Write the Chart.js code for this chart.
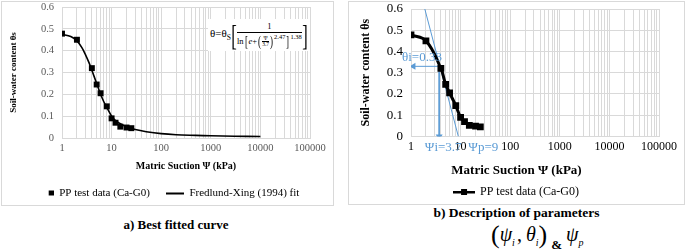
<!DOCTYPE html>
<html>
<head>
<meta charset="utf-8">
<script src="https://cdn.jsdelivr.net/npm/chart.js@4.4.1/dist/chart.umd.min.js"></script>
<style>
  body { margin: 0; width: 685px; height: 250px; background: #fff; position: relative; overflow: hidden;
         font-family: 'Liberation Serif', 'Times New Roman', serif; }
  .box { position: absolute; border: 1px solid #d9d9d9; box-sizing: border-box; background: #fff; }
  #boxA { left: 1px; top: 1px; width: 333px; height: 205px; }
  #boxB { left: 348px; top: 1px; width: 337px; height: 204px; }
  .inner { position: relative; width: 100%; height: 100%; }
  .caption { position: absolute; font-weight: bold; color: #000; white-space: nowrap; }
  #capA { left: 0; width: 352px; text-align: center; top: 217px; font-size: 13px; }
  #capB { left: 348px; width: 337px; text-align: center; top: 205px; font-size: 13.5px; }
  #capB2 { position: absolute; left: 491px; top: 218px; font-size: 20px; white-space: nowrap; }
  #capB2 .paren { font-size: 26px; position: relative; top: 2px; }
  #capB2 sub { font-size: 10px; font-style: italic; }
  #capB2 .sep { margin: 0 4px 0 2px; }
  #capB2 .amp { font-size: 13px; position: relative; top: 8px; margin: 0 4px; }
  #eq { position: absolute; left: 208px; top: 19px; height: 32px; background: #fff; color: #000;
        display: flex; align-items: center; font-size: 11px; white-space: nowrap; padding: 0 2px; }
  #eq sub { font-size: 7.5px; }
  #eq .big { font-size: 30px; transform: scaleX(0.55); display: inline-block; line-height: 1; margin: 0 -2px; }
  #eq .frac { display: inline-flex; flex-direction: column; align-items: center; }
  #eq .num { font-size: 8.5px; border-bottom: 1px solid #000; width: 100%; text-align: center; line-height: 1.3; }
  #eq .den { font-size: 8.5px; display: flex; align-items: center; line-height: 1; padding-top: 1px; }
  #eq .mid { font-size: 15px; transform: scaleX(0.6); display: inline-block; }
  #eq .sfrac { display: inline-flex; flex-direction: column; font-size: 5.5px; text-align: center; }
  #eq .sfrac span:first-child { border-bottom: 0.5px solid #000; }
  #eq sup { font-size: 6.5px; align-self: flex-start; }
</style>
</head>
<body>
<div class="box" id="boxA"><div class="inner"><canvas id="chartA"></canvas></div></div>
<div class="box" id="boxB"><div class="inner"><canvas id="chartB"></canvas></div></div>

<div id="eq">
  <span>θ=θ<sub>S</sub></span>
  <span class="big">[</span>
  <span class="frac">
    <span class="num">1</span>
    <span class="den">ln<span class="mid">[</span><i>e</i>+<span class="mid">(</span><span class="sfrac"><span>Ψ</span><span>3.7</span></span><span class="mid">)</span><sup>2.47</sup><span class="mid">]</span><sup>1.38</sup></span>
  </span>
  <span class="big">]</span>
</div>

<div class="caption" id="capA">a) Best fitted curve</div>
<div class="caption" id="capB">b) Description of parameters</div>
<div id="capB2"><span class="paren">(</span><i>ψ</i><sub>i</sub><span class="sep">,</span><i>θ</i><sub>i</sub><span class="paren">)</span><b class="amp">&amp;</b><i>ψ</i><sub>p</sub></div>

<script>
// Measured points (PP test data, Ca-G0)
const suction = [1, 2, 4, 5, 6, 8, 10, 12, 15, 20, 25];
const theta = [0.478, 0.45, 0.32, 0.245, 0.205, 0.145, 0.09, 0.07, 0.052, 0.048, 0.045];

// Fredlund-Xing fitted curve
const fitSuction = [1, 1.5, 2, 2.5, 3, 3.5, 4, 5, 6, 7, 8, 10, 12, 15, 20, 30, 50, 100, 200, 500, 1000, 3000, 10000];
const fitTheta = [0.475, 0.465, 0.445, 0.415, 0.38, 0.345, 0.31, 0.25, 0.2, 0.165, 0.14, 0.1, 0.08, 0.065, 0.052, 0.039, 0.029, 0.02, 0.015, 0.012, 0.01, 0.008, 0.007];

// Parameter construction on the right panel
const tangentSuction = [1.9, 9];
const tangentTheta = [0.6, 0];
const psiI = 3.7;
const thetaI = 0.33;
const psiP = 9;
const arrowLeftEnd = 1.12;

const yTicks = [0, 0.1, 0.2, 0.3, 0.4, 0.5, 0.6];
const decades = [1, 10, 100, 1000, 10000, 100000];

const blue = '#5b9bd5';
const gridColor = '#d9d9d9';
const serif = "'Liberation Serif', 'Times New Roman', serif";

function toPoints(xs, ys) {
  return xs.map((x, i) => ({ x: x, y: ys[i] }));
}

// gridlines at 1..9 of every decade, labels only on the decades
function logTicks(scale) {
  const ticks = [];
  decades.forEach(d => {
    if (d === 100000) { ticks.push({ value: d }); return; }
    for (let k = 1; k <= 9; k++) ticks.push({ value: k * d });
  });
  scale.ticks = ticks;
}
function decadeLabel(v) {
  return decades.includes(v) ? String(v) : '';
}
// keep chart area where we put it, no extra room for overhanging labels
function noOverhang(s) {
  s.paddingTop = 0; s.paddingBottom = 0; s.paddingLeft = 0; s.paddingRight = 0;
}

// small canvases used as legend symbols
function makeIcon(w, h, draw) {
  const c = document.createElement('canvas');
  c.width = w; c.height = h;
  draw(c.getContext('2d'));
  return c;
}
const squareIcon = makeIcon(18, 8, ctx => { ctx.fillStyle = '#000'; ctx.fillRect(13, 1, 5, 5); });
const lineIcon = makeIcon(18, 4, ctx => { ctx.fillStyle = '#000'; ctx.fillRect(0, 1, 18, 2); });
const lineMarkerIcon = makeIcon(22, 8, ctx => {
  ctx.fillStyle = '#000';
  ctx.fillRect(0, 3, 22, 2.5);
  ctx.fillRect(8, 1, 6, 6);
});

// invisible right-hand axis that only reserves space
function spacerAxis(w) {
  return {
    position: 'right', display: true,
    grid: { display: false, drawTicks: false }, border: { display: false },
    ticks: { display: false },
    afterFit: s => { s.width = w; noOverhang(s); }
  };
}

// ---------- a) Best fitted curve ----------
new Chart(document.getElementById('chartA'), {
  type: 'scatter',
  data: {
    datasets: [{
      label: 'PP test data (Ca-G0)',
      data: toPoints(suction, theta),
      pointStyle: 'rect',
      pointRadius: 4.2,
      backgroundColor: '#000',
      borderColor: '#000',
      borderWidth: 0,
      showLine: false
    }, {
      label: 'Fredlund-Xing (1994) fit',
      data: toPoints(fitSuction, fitTheta),
      showLine: true,
      borderColor: '#000',
      borderWidth: 1.6,
      pointRadius: 0,
      tension: 0.35
    }]
  },
  options: {
    responsive: true,
    maintainAspectRatio: false,
    animation: false,
    layout: { padding: { top: 5, right: 0, left: 0, bottom: 0 } },
    scales: {
      x: {
        type: 'logarithmic', min: 1, max: 100000,
        grid: { color: gridColor, drawTicks: false },
        border: { color: gridColor },
        afterBuildTicks: logTicks,
        afterFit: s => { s.height = 34; noOverhang(s); },
        ticks: { autoSkip: false, maxRotation: 0, padding: 4, color: '#595959',
                 font: { family: serif, size: 10.5 }, callback: decadeLabel },
        title: { display: true, text: 'Matric Suction Ψ (kPa)', color: '#000',
                 font: { family: serif, size: 10, weight: 'bold' },
                 padding: { top: 0, bottom: 0 } }
      },
      y: {
        min: 0, max: 0.6,
        grid: { color: gridColor, drawTicks: false },
        border: { color: gridColor },
        afterBuildTicks: s => { s.ticks = yTicks.map(v => ({ value: v })); },
        afterFit: s => { s.width = 60; noOverhang(s); },
        ticks: { padding: 8, color: '#595959', font: { family: serif, size: 10.5 } },
        title: { display: true, text: 'Soil-water content θs', color: '#000',
                 font: { family: serif, size: 9, weight: 'bold' },
                 padding: { top: 6, bottom: 0 } }
      },
      y2: spacerAxis(23)
    },
    plugins: {
      tooltip: { enabled: false },
      legend: {
        position: 'bottom',
        maxHeight: 33,
        labels: {
          usePointStyle: true,
          pointStyleWidth: 18,
          padding: 16,
          color: '#000',
          font: { family: serif, size: 11 },
          generateLabels: chart => [
            { text: 'PP test data (Ca-G0)', pointStyle: squareIcon, fillStyle: '#000', strokeStyle: '#000', lineWidth: 0, datasetIndex: 0 },
            { text: 'Fredlund-Xing (1994) fit', pointStyle: lineIcon, fillStyle: '#000', strokeStyle: '#000', lineWidth: 0, datasetIndex: 1 }
          ]
        }
      }
    }
  }
});

// ---------- b) Description of parameters ----------
const annotationText = {
  id: 'annotationText',
  afterDatasetsDraw(chart) {
    const { ctx, scales: { x, y }, chartArea } = chart;
    ctx.save();
    ctx.fillStyle = blue;
    ctx.font = "13px 'Liberation Serif', serif";
    ctx.textBaseline = 'middle';
    ctx.textAlign = 'left';
    ctx.fillText('θi=0.33', x.getPixelForValue(1) - 9, y.getPixelForValue(thetaI) - 9);
    ctx.textAlign = 'center';
    ctx.fillText('Ψi=3.7', x.getPixelForValue(psiI) + 4, chartArea.bottom + 11);
    ctx.textAlign = 'left';
    ctx.fillText('Ψp=9', x.getPixelForValue(psiP) + 10, chartArea.bottom + 11);
    ctx.restore();
  }
};

new Chart(document.getElementById('chartB'), {
  type: 'scatter',
  data: {
    datasets: [{
      label: 'PP test data (Ca-G0)',
      data: toPoints(suction, theta),
      showLine: true,
      borderColor: '#000',
      backgroundColor: '#000',
      borderWidth: 3,
      pointStyle: 'rect',
      pointRadius: 4.8,
      pointBorderWidth: 0,
      tension: 0.4
    }, {
      label: 'tangent',
      data: toPoints(tangentSuction, tangentTheta),
      showLine: true,
      borderColor: blue,
      borderWidth: 1,
      pointRadius: 0
    }, {
      label: 'psi_i',
      data: toPoints([psiI, psiI], [thetaI, 0]),
      showLine: true,
      borderColor: blue,
      backgroundColor: blue,
      borderWidth: 1,
      pointStyle: 'triangle',
      pointRadius: [0, 4],
      pointRotation: [0, 180],
      pointBorderWidth: 0
    }, {
      label: 'theta_i',
      data: toPoints([psiI, arrowLeftEnd], [thetaI, thetaI]),
      showLine: true,
      borderColor: blue,
      backgroundColor: blue,
      borderWidth: 1,
      pointStyle: 'triangle',
      pointRadius: [0, 4],
      pointRotation: [0, 270],
      pointBorderWidth: 0
    }]
  },
  options: {
    responsive: true,
    maintainAspectRatio: false,
    animation: false,
    layout: { padding: { top: 7, right: 0, left: 0, bottom: 0 } },
    scales: {
      x: {
        type: 'logarithmic', min: 1, max: 100000,
        grid: { color: gridColor, drawTicks: false },
        border: { color: gridColor },
        afterBuildTicks: logTicks,
        afterFit: s => { s.height = 24; noOverhang(s); },
        ticks: { autoSkip: false, maxRotation: 0, padding: 3, color: '#000',
                 font: { family: serif, size: 12 }, callback: decadeLabel }
      },
      y: {
        min: 0, max: 0.6,
        grid: { color: gridColor, drawTicks: false },
        border: { color: gridColor },
        afterBuildTicks: s => { s.ticks = yTicks.map(v => ({ value: v })); },
        afterFit: s => { s.width = 62; noOverhang(s); },
        ticks: { padding: 8, color: '#000', font: { family: serif, size: 13 } },
        title: { display: true, text: 'Soil-water content θs', color: '#000',
                 font: { family: serif, size: 12, weight: 'bold' },
                 padding: { top: 10, bottom: 0 } }
      },
      y2: spacerAxis(25)
    },
    plugins: {
      tooltip: { enabled: false },
      title: {
        display: true, position: 'bottom', weight: 500,
        text: 'Matric Suction Ψ (kPa)', color: '#000',
        font: { family: serif, size: 13, weight: 'bold' },
        padding: { top: 2, bottom: 0 }
      },
      legend: {
        position: 'bottom',
        maxHeight: 26,
        labels: {
          usePointStyle: true,
          pointStyleWidth: 20,
          padding: 8,
          color: '#000',
          font: { family: serif, size: 12 },
          generateLabels: chart => [
            { text: 'PP test data (Ca-G0)', pointStyle: lineMarkerIcon, fillStyle: '#000', strokeStyle: '#000', lineWidth: 0, datasetIndex: 0 }
          ]
        }
      }
    }
  },
  plugins: [annotationText]
});
</script>
</body>
</html>
